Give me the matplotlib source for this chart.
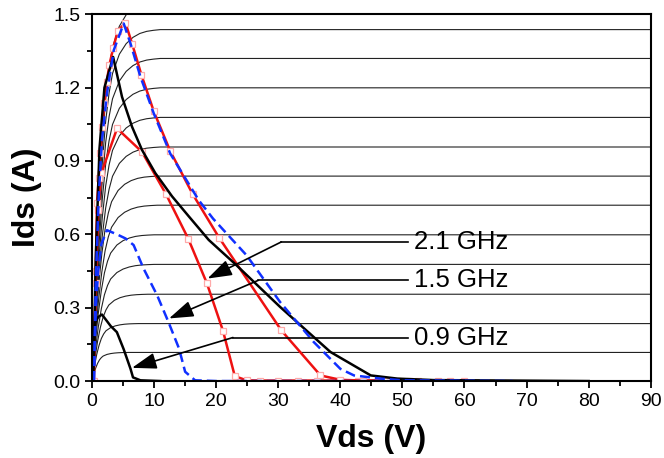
import matplotlib
matplotlib.use("Agg")
import matplotlib.pyplot as plt
import numpy as np

plt.rcParams['font.family'] = ['Liberation Sans', 'DejaVu Sans']

# I-V family: saturation level of each Vgs curve and its knee stretch
family_levels = [0.117, 0.235, 0.355, 0.477, 0.598, 0.719, 0.838, 0.957, 1.078, 1.199, 1.319, 1.437, 1.56]
family_stretch = [0.6, 0.75, 0.9, 1.0, 1.0, 1.05, 1.05, 1.1, 1.1, 1.1, 1.1, 1.1, 1.1]
# shared knee profile (volts, fraction of saturation)
knee_v = [0, 0.5, 1, 1.5, 2, 2.5, 3, 4, 5, 6, 7, 8, 9, 10, 12]
knee_frac = [0, 0.25, 0.46, 0.62, 0.74, 0.82, 0.875, 0.93, 0.96, 0.978, 0.989, 0.995, 0.998, 1.0, 1.0]
vds_max = 90

# load-line trajectories
blk_small_v = [0, 0.3, 0.5, 1.0, 1.6, 3.0, 4.0, 5.1, 6.2, 6.6, 7.8, 11.0]
blk_small_i = [0, 0.10, 0.24, 0.262, 0.272, 0.225, 0.20, 0.13, 0.05, 0.015, 0.003, 0.0]

blu_mid_v = [0.3, 0.6, 1.0, 1.5, 2.4, 4.0, 5.4, 6.7, 8.3, 10.5, 12.3, 14.0, 15.0, 16.6, 20.0, 60.0]
blu_mid_i = [0.0, 0.30, 0.45, 0.56, 0.617, 0.60, 0.583, 0.556, 0.46, 0.35, 0.242, 0.134, 0.038, 0.003, 0.0, 0.0]

red_low_v = [0.2, 0.6, 1.0, 1.5, 4.03, 8.05, 11.9, 15.5, 18.5, 21.1, 23.0, 24.9, 27.1, 30.0, 33.1, 36.3,
             39.5, 42.8, 46.0, 49.3, 52.5]
red_low_i = [0.0, 0.4, 0.7, 0.85, 1.033, 0.937, 0.765, 0.582, 0.40, 0.205, 0.02, 0.003, 0.002, 0.002,
             0.002, 0.002, 0.002, 0.002, 0.002, 0.002, 0.002]

blk_up_v = [0.2, 0.6, 1.2, 2.0, 3.4, 4.83, 6.44, 8.05, 10.2, 12.9, 15.6, 18.8, 23.0, 30.3, 38.4, 44.9,
            49.2, 55.0, 80.0]
blk_up_i = [0.0, 0.5, 0.95, 1.2, 1.325, 1.162, 1.04, 0.945, 0.85, 0.755, 0.673, 0.577, 0.48, 0.303, 0.119,
            0.023, 0.01, 0.004, 0.0]

red_up_v = [0.3, 0.6, 0.8, 1.07, 1.34, 1.65, 2.0, 2.35, 2.8, 3.4, 4.14, 5.38, 6.45, 7.94, 9.93, 12.6,
            16.2, 20.5, 30.5, 36.8, 40.0, 43.7, 47.3, 51.3, 55.7, 57.6, 60.0]
red_up_i = [0.0, 0.45, 0.727, 0.83, 0.932, 1.038, 1.137, 1.221, 1.293, 1.36, 1.432, 1.465, 1.38, 1.253,
            1.104, 0.94, 0.765, 0.585, 0.207, 0.023, 0.005, 0.002, 0.002, 0.002, 0.002, 0.002, 0.002]

blu_up_v = [0.3, 0.6, 1.08, 1.6, 2.4, 3.5, 5.1, 6.2, 7.8, 9.95, 12.6, 17.2, 19.5, 24.9, 30.3, 35.7,
            40.0, 42.2, 46.5, 50.0, 67.8]
blu_up_i = [0.0, 0.4, 0.753, 0.985, 1.175, 1.353, 1.462, 1.38, 1.244, 1.094, 0.93, 0.739, 0.664, 0.514,
            0.323, 0.16, 0.05, 0.023, 0.01, 0.003, 0.0]

# annotation labels: text, arrow tip, bend point
labels = ['2.1 GHz', '1.5 GHz', '0.9 GHz']
tips = [(18.6, 0.419), (12.4, 0.256), (6.44, 0.054)]
bends = [(30.5, 0.569), (26.8, 0.412), (22.7, 0.178)]
label_x = 51.9

fig = plt.figure(figsize=(6.64, 4.58), dpi=100)
ax = fig.add_axes([0.1386, 0.168, 0.8414, 0.801])

kv = np.array(knee_v)
kf = np.array(knee_frac)
for lev, st in zip(family_levels, family_stretch):
    xs = np.append(kv * st, vds_max)
    ys = np.append(kf * lev, lev)
    ax.plot(xs, ys, color='#222222', lw=0.8, zorder=2)

ax.plot(red_low_v, red_low_i, color='#ee1111', lw=1.8, marker='s', ms=4.5, mfc='white',
        mec='#ffaaaa', mew=0.9, zorder=3)
ax.plot(red_up_v, red_up_i, color='#ee1111', lw=1.8, marker='s', ms=4.5, mfc='white',
        mec='#ffaaaa', mew=0.9, zorder=3)
ax.plot(blk_small_v, blk_small_i, color='black', lw=1.8, zorder=4)
ax.plot(blk_up_v, blk_up_i, color='black', lw=1.8, zorder=4)
ax.plot(blu_mid_v, blu_mid_i, color='#1030ff', lw=1.8, dashes=(4, 2), zorder=5)
ax.plot(blu_up_v, blu_up_i, color='#1030ff', lw=1.8, dashes=(4, 2), zorder=5)

for txt, tip, bend in zip(labels, tips, bends):
    ax.plot([bend[0], label_x - 1.0], [bend[1], bend[1]], color='black', lw=1.2, zorder=6)
    ax.annotate('', xy=tip, xytext=bend,
                arrowprops=dict(arrowstyle='-|>,head_length=1.5,head_width=0.5',
                                mutation_scale=10, color='black', lw=1.2,
                                shrinkA=0, shrinkB=0), zorder=6)
    ax.text(label_x, bend[1], txt, fontsize=18.5, va='center', ha='left', zorder=7)

ax.set_xlim(0, 90)
ax.set_ylim(0, 1.5)
ax.set_xticks(np.arange(0, 91, 10))
ax.set_xticks(np.arange(5, 90, 10), minor=True)
ax.set_yticks(np.arange(0, 1.51, 0.3))
ax.set_yticks(np.arange(0.15, 1.5, 0.3), minor=True)
ax.yaxis.set_major_formatter(matplotlib.ticker.FormatStrFormatter('%.1f'))
ax.tick_params(which='major', direction='out', length=5, width=1.3, labelsize=14)
ax.tick_params(which='minor', direction='out', length=3.5, width=1.3)
for s in ax.spines.values():
    s.set_linewidth(1.5)
    s.set_zorder(8)

ax.set_xlabel('Vds (V)', fontsize=23, fontweight='bold', labelpad=10)
ax.set_ylabel('Ids (A)', fontsize=23, fontweight='bold', labelpad=8)

fig.savefig('out.png', dpi=100)
